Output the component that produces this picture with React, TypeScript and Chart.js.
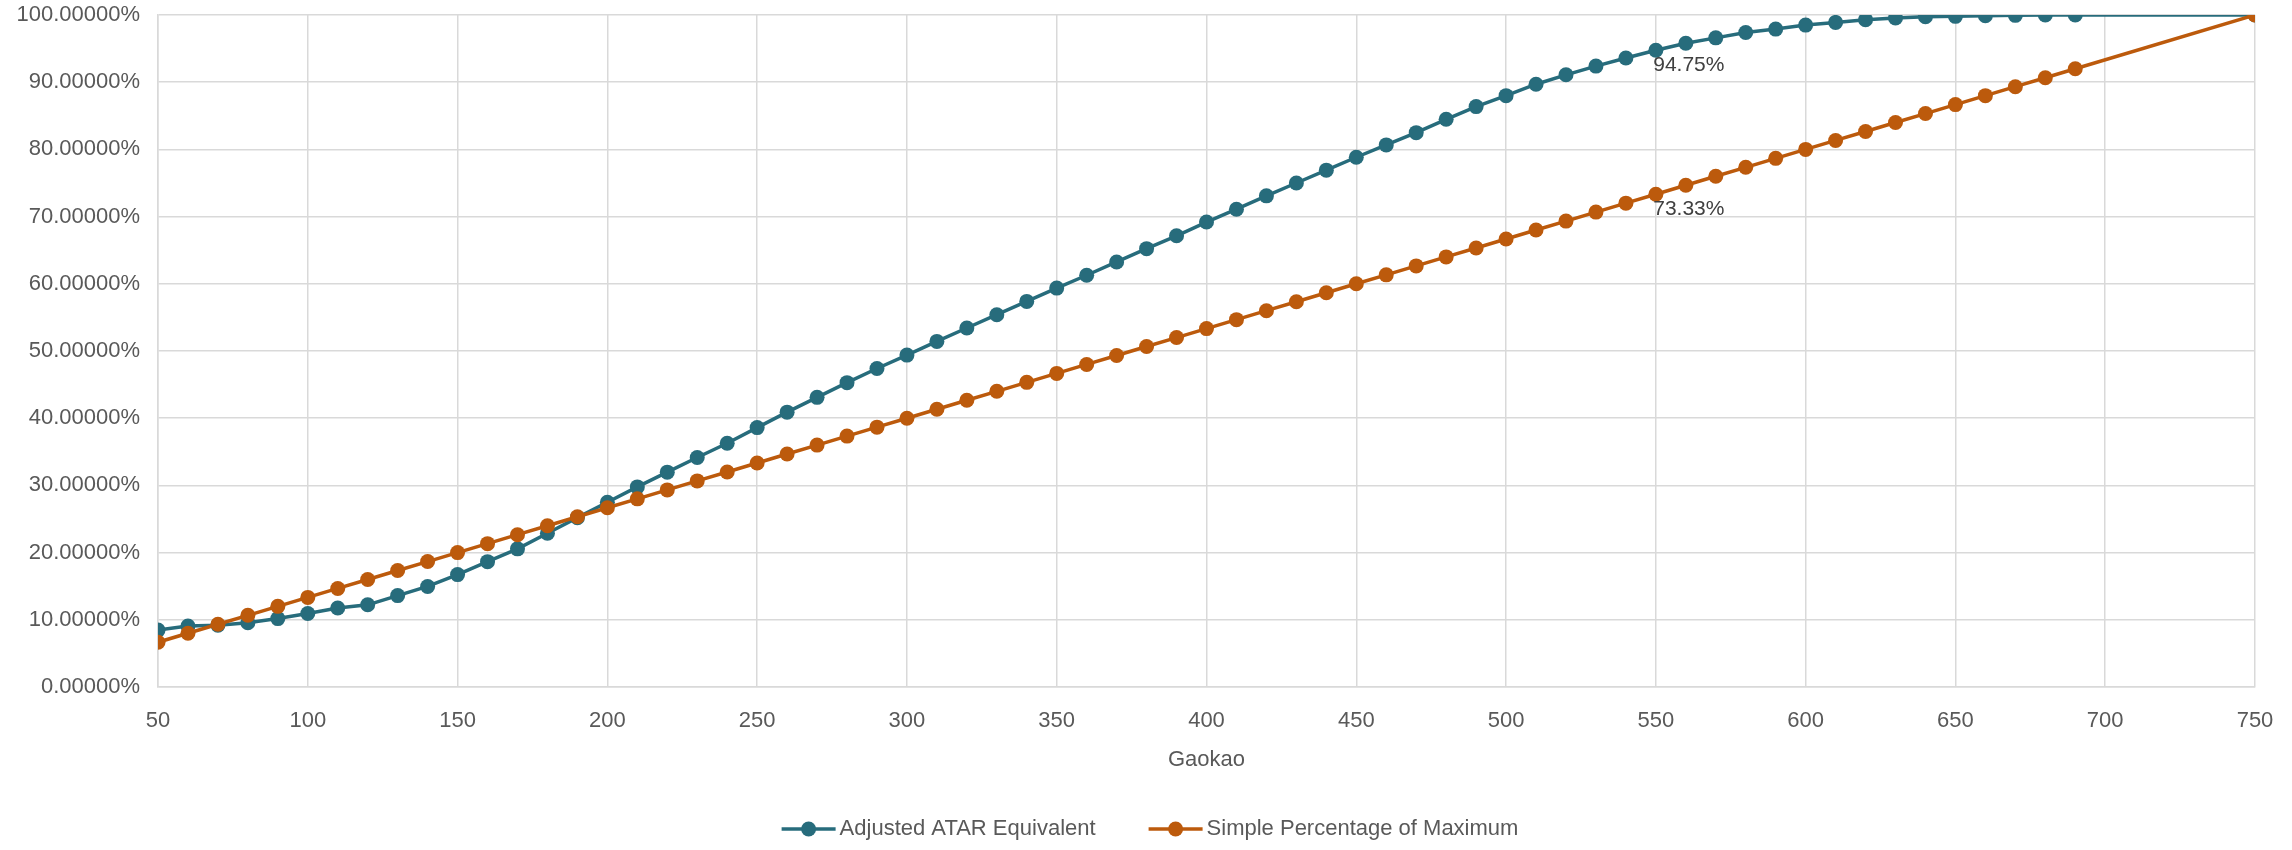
import React, { useEffect, useRef } from "react";
import { Chart, registerables } from "chart.js";

Chart.register(...registerables);

const gaokaoScores = [
  50, 60, 70, 80, 90, 100, 110, 120, 130, 140, 150, 160, 170, 180, 190, 200,
  210, 220, 230, 240, 250, 260, 270, 280, 290, 300, 310, 320, 330, 340, 350,
  360, 370, 380, 390, 400, 410, 420, 430, 440, 450, 460, 470, 480, 490, 500,
  510, 520, 530, 540, 550, 560, 570, 580, 590, 600, 610, 620, 630, 640, 650,
  660, 670, 680, 690, 750,
];

const adjustedAtar = [
  8.47, 9.08, 9.2, 9.56, 10.18, 10.93, 11.75, 12.23, 13.6, 14.96, 16.73, 18.65,
  20.56, 22.88, 25.2, 27.5, 29.78, 31.97, 34.15, 36.27, 38.6, 40.9, 43.1, 45.29,
  47.4, 49.39, 51.43, 53.42, 55.4, 57.38, 59.36, 61.27, 63.25, 65.23, 67.14,
  69.19, 71.1, 73.09, 75.0, 76.91, 78.83, 80.67, 82.49, 84.48, 86.37, 88.0,
  89.7, 91.1, 92.4, 93.6, 94.75, 95.8, 96.6, 97.4, 97.9, 98.5, 98.9, 99.3,
  99.55, 99.75, 99.8, 99.9, 99.95, 100, 100, 100,
];

const simplePercent = [
  6.6667, 8.0, 9.3333, 10.6667, 12.0, 13.3333, 14.6667, 16.0, 17.3333, 18.6667,
  20.0, 21.3333, 22.6667, 24.0, 25.3333, 26.6667, 28.0, 29.3333, 30.6667,
  32.0, 33.3333, 34.6667, 36.0, 37.3333, 38.6667, 40.0, 41.3333, 42.6667,
  44.0, 45.3333, 46.6667, 48.0, 49.3333, 50.6667, 52.0, 53.3333, 54.6667,
  56.0, 57.3333, 58.6667, 60.0, 61.3333, 62.6667, 64.0, 65.3333, 66.6667,
  68.0, 69.3333, 70.6667, 72.0, 73.3333, 74.6667, 76.0, 77.3333, 78.6667,
  80.0, 81.3333, 82.6667, 84.0, 85.3333, 86.6667, 88.0, 89.3333, 90.6667,
  92.0, 100,
];

const seriesNames = ["Adjusted ATAR Equivalent", "Simple Percentage of Maximum"];
const seriesColors = ["#276C7C", "#BC5A0C"];
const labeledScore = 550;
const xTitle = "Gaokao";

const FONT = "'Liberation Sans', Arial, sans-serif";

export default function App() {
  const ref = useRef<HTMLCanvasElement | null>(null);

  useEffect(() => {
    const canvas = ref.current;
    if (!canvas) return;

    const overlay = {
      id: "overlay",
      afterDatasetsDraw(chart: any) {
        const ctx = chart.ctx;
        const idx = gaokaoScores.indexOf(labeledScore);
        ctx.save();
        ctx.font = `21px ${FONT}`;
        ctx.fillStyle = "#404040";
        ctx.textAlign = "center";
        ctx.textBaseline = "middle";
        chart.data.datasets.forEach((ds: any, i: number) => {
          const pt = chart.getDatasetMeta(i).data[idx];
          if (!pt) return;
          const v = ds.data[idx].y as number;
          ctx.fillText(v.toFixed(2) + "%", pt.x + 33, pt.y + 15);
        });
        ctx.restore();
      },
      afterDraw(chart: any) {
        const ctx = chart.ctx;
        const area = chart.chartArea;
        ctx.save();
        ctx.font = `22px ${FONT}`;
        ctx.fillStyle = "#595959";
        ctx.textAlign = "center";
        ctx.textBaseline = "middle";
        ctx.fillText(xTitle, (area.left + area.right) / 2, 760);

        // legend
        ctx.font = `22px ${FONT}`;
        ctx.textAlign = "left";
        const y = 829;
        const gap = 53;
        const markW = 54;
        const widths = seriesNames.map((n) => ctx.measureText(n).width);
        const total =
          widths.reduce((a, b) => a + b, 0) + seriesNames.length * (markW + 4) + gap;
        let x = chart.width / 2 - total / 2 + 4;
        seriesNames.forEach((n, i) => {
          ctx.strokeStyle = seriesColors[i];
          ctx.lineWidth = 3.5;
          ctx.beginPath();
          ctx.moveTo(x, y);
          ctx.lineTo(x + markW, y);
          ctx.stroke();
          ctx.fillStyle = seriesColors[i];
          ctx.beginPath();
          ctx.arc(x + markW / 2, y, 7.5, 0, Math.PI * 2);
          ctx.fill();
          ctx.fillStyle = "#595959";
          ctx.fillText(n, x + markW + 4, y);
          x += markW + 4 + widths[i] + gap;
        });
        ctx.restore();
      },
    };

    const mk = (vals: number[]) =>
      gaokaoScores.map((g, i) => ({ x: g, y: vals[i] }));

    const chart = new Chart(canvas, {
      type: "line",
      data: {
        datasets: [
          {
            label: seriesNames[0],
            data: mk(adjustedAtar),
            borderColor: seriesColors[0],
            backgroundColor: seriesColors[0],
            borderWidth: 3.5,
            pointRadius: 7.5,
            pointHoverRadius: 7.5,
            pointBorderWidth: 0,
            tension: 0,
            order: 2,
          },
          {
            label: seriesNames[1],
            data: mk(simplePercent),
            borderColor: seriesColors[1],
            backgroundColor: seriesColors[1],
            borderWidth: 3.5,
            pointRadius: 7.5,
            pointHoverRadius: 7.5,
            pointBorderWidth: 0,
            tension: 0,
            order: 1,
          },
        ],
      },
      options: {
        animation: false,
        responsive: true,
        maintainAspectRatio: false,
        layout: { padding: { top: 15, right: 37, left: 0, bottom: 0 } },
        plugins: {
          legend: { display: false },
          tooltip: { enabled: false },
        },
        scales: {
          x: {
            type: "linear",
            min: 50,
            max: 750,
            ticks: {
              stepSize: 50,
              color: "#595959",
              font: { size: 22, family: FONT },
              padding: 21,
              maxRotation: 0,
            },
            grid: { color: "#d9d9d9", lineWidth: 1.5, drawTicks: false },
            border: { color: "#d9d9d9", width: 1.5 },
            afterFit: (s: any) => {
              s.height = 163;
              s.paddingLeft = 0;
              s.paddingRight = 0;
            },
          },
          y: {
            min: 0,
            max: 100,
            ticks: {
              stepSize: 10,
              color: "#595959",
              font: { size: 22, family: FONT },
              padding: 18,
              callback: (v: any) => Number(v).toFixed(5) + "%",
            },
            grid: { color: "#d9d9d9", lineWidth: 1.5, drawTicks: false },
            border: { color: "#d9d9d9", width: 1.5 },
            afterFit: (s: any) => {
              s.width = 158;
              s.paddingTop = 0;
              s.paddingBottom = 0;
            },
          },
        },
      },
      plugins: [overlay],
    });

    return () => chart.destroy();
  }, []);

  return (
    <div style={{ position: "fixed", left: 0, top: 0, width: 2292, height: 850, background: "#fff" }}>
      <canvas ref={ref} />
    </div>
  );
}
